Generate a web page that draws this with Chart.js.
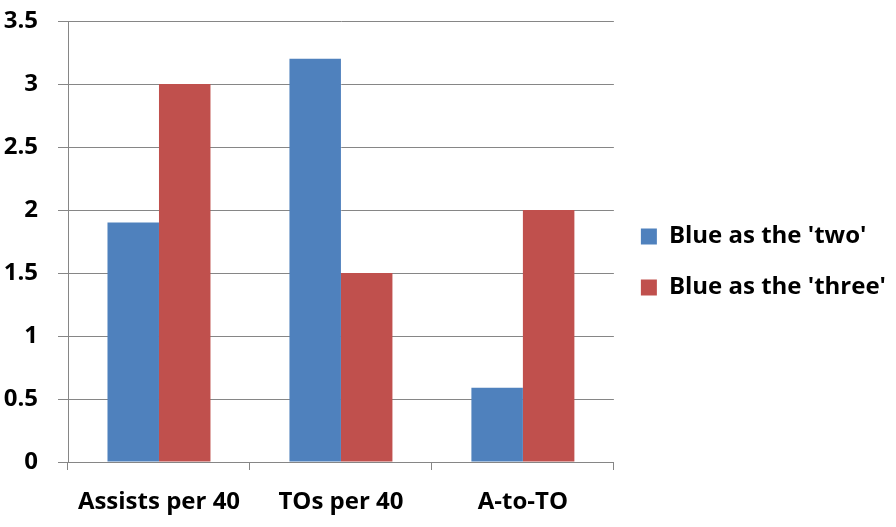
<!DOCTYPE html>
<html>
<head>
<meta charset="utf-8">
<script src="https://cdn.jsdelivr.net/npm/chart.js@4"></script>
<style>
  html, body { margin: 0; padding: 0; background: #fff; }
  #wrap { width: 896px; height: 527px; }
</style>
</head>
<body>
<div id="wrap"><canvas id="myChart" width="896" height="527"></canvas></div>
<script>
// categories and series
const categories = ['Assists per 40', 'TOs per 40', 'A-to-TO'];
const seriesNames = ["Blue as the 'two'", "Blue as the 'three'"];
const asTwo = [1.9, 3.2, 0.59];
const asThree = [3.0, 1.5, 2.0];

const FONT = '"Open Sans", "Liberation Sans", sans-serif';
const gridGray = '#868686';

function draw() {
    const ctx = document.getElementById('myChart').getContext('2d');
    new Chart(ctx, {
        type: 'bar',
        data: {
            labels: categories,
            datasets: [{
                label: seriesNames[0],
                data: asTwo,
                backgroundColor: '#4f81bd',
                borderWidth: 0
            }, {
                label: seriesNames[1],
                data: asThree,
                backgroundColor: '#c0504d',
                borderWidth: 0
            }]
        },
        options: {
            responsive: false,
            animation: false,
            categoryPercentage: 0.566,
            barPercentage: 1,
            layout: {
                padding: { top: 0, left: 3, right: 0, bottom: 3 }
            },
            scales: {
                x: {
                    afterFit: (scale) => { scale.height = 62; },
                    grid: {
                        offset: true,
                        drawOnChartArea: false,
                        drawTicks: true,
                        tickLength: 8,
                        color: gridGray
                    },
                    border: { color: gridGray },
                    ticks: {
                        color: '#000',
                        padding: 18,
                        font: { family: FONT, size: 24, weight: 'bold' }
                    }
                },
                y: {
                    min: 0,
                    max: 3.5,
                    afterFit: (scale) => {
                        scale.width = 65;
                        scale.paddingTop = 21;
                        scale.paddingBottom = 0;
                    },
                    grid: {
                        color: gridGray,
                        tickLength: 10
                    },
                    border: { color: gridGray },
                    ticks: {
                        stepSize: 0.5,
                        color: '#000',
                        padding: 20,
                        font: { family: FONT, size: 24, weight: 'bold' },
                        callback: (v) => String(v)
                    }
                }
            },
            plugins: {
                legend: {
                    position: 'right',
                    maxWidth: 289,
                    labels: {
                        boxWidth: 16,
                        boxHeight: 16,
                        padding: 27,
                        color: '#000',
                        font: { family: FONT, size: 24, weight: 'bold' }
                    }
                },
                tooltip: { enabled: false }
            }
        }
    });
}

document.fonts.load('bold 24px "Open Sans"').then(draw, draw);
</script>
</body>
</html>
